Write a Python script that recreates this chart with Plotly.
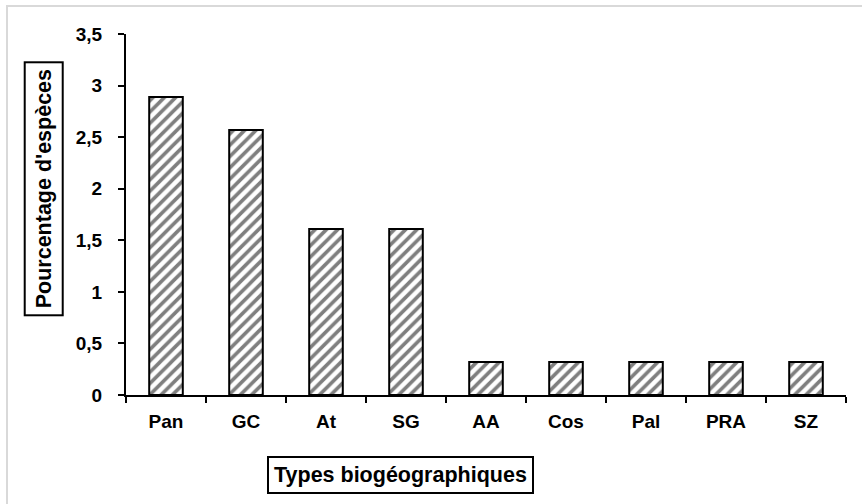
import plotly.graph_objects as go

categories = ["Pan", "GC", "At", "SG", "AA", "Cos", "Pal", "PRA", "SZ"]
values = [2.89, 2.57, 1.61, 1.61, 0.32, 0.32, 0.32, 0.32, 0.32]
y_ticks = [0, 0.5, 1, 1.5, 2, 2.5, 3, 3.5]

W, H = 862, 504
L, R, T, B = 126, 846, 34, 395.5
pw, ph = R - L, B - T

def px_x(x):
    return (x - L) / pw

def px_y(y):
    return (B - y) / ph

FONT = "Liberation Sans, Arial, sans-serif"

fig = go.Figure()
fig.add_trace(go.Bar(
    x=categories, y=values, width=0.42,
    marker=dict(color="white", line=dict(color="black", width=2),
                pattern=dict(shape="/", fgcolor="black", bgcolor="white",
                             size=8, solidity=0.45)),
    showlegend=False, hoverinfo="x+y",
))

fig.update_layout(
    width=W, height=H,
    margin=dict(l=L, r=W - R, t=T, b=H - B, pad=0),
    paper_bgcolor="white", plot_bgcolor="white",
    separators=", ",
    font=dict(family=FONT, color="black", size=18, weight="bold"),
)
fig.update_xaxes(
    type="category", range=[-0.5, 8.5], showline=True, linecolor="black",
    linewidth=2, ticks="outside", tickson="boundaries", ticklen=6,
    tickwidth=2, tickcolor="black", showgrid=False, zeroline=False,
    tickfont=dict(size=19, family=FONT, weight="bold"),
    ticklabelstandoff=8,
)
fig.update_yaxes(
    range=[0, 3.5], tickvals=y_ticks, showline=True, linecolor="black",
    linewidth=2, ticks="outside", ticklen=6, tickwidth=2, tickcolor="black",
    showgrid=False, zeroline=False,
    tickfont=dict(size=19, family=FONT, weight="bold"),
    ticklabelstandoff=12,
)

fig.add_annotation(
    text="Pourcentage d'espèces", xref="paper", yref="paper",
    x=px_x(44), y=px_y(189.5), xanchor="center", yanchor="middle",
    textangle=-90, showarrow=False,
    font=dict(size=21.5, family=FONT, weight="bold", color="black"),
    bordercolor="black", borderwidth=2, borderpad=6, bgcolor="white",
)
fig.add_annotation(
    text="Types biogéographiques", xref="paper", yref="paper",
    x=px_x(400), y=px_y(476), xanchor="center", yanchor="middle",
    showarrow=False,
    font=dict(size=21.5, family=FONT, weight="bold", color="black"),
    bordercolor="black", borderwidth=2, borderpad=5, bgcolor="white",
)
fig.add_shape(
    type="rect", xref="paper", yref="paper",
    x0=px_x(7), x1=px_x(875), y0=px_y(6), y1=px_y(520),
    line=dict(color="#d9d9d9", width=2), fillcolor="rgba(0,0,0,0)",
    layer="below",
)

fig.write_html("out.html")
